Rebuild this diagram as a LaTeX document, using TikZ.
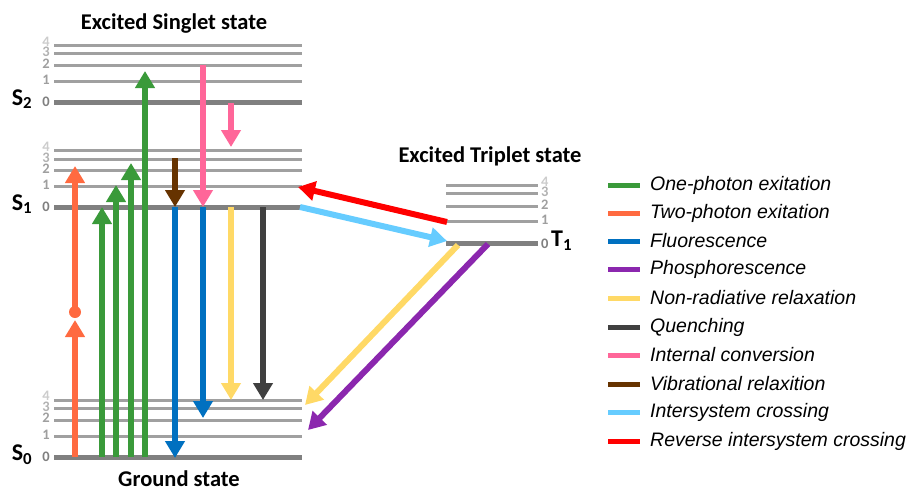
\documentclass[tikz,border=0pt]{standalone}
\usepackage{fontspec}
\setmainfont{Liberation Sans}
\newfontfamily\calfont{Carlito}
\usetikzlibrary{arrows.meta}
\definecolor{cgreen}{HTML}{3A9A3A}
\definecolor{corange}{HTML}{FF6A40}
\definecolor{cblue}{HTML}{0070C0}
\definecolor{cpurple}{HTML}{8B27AE}
\definecolor{cyellow}{HTML}{FFD966}
\definecolor{cdark}{HTML}{404040}
\definecolor{cpink}{HTML}{FF6699}
\definecolor{cbrown}{HTML}{663300}
\definecolor{clblue}{HTML}{66CCFF}
\definecolor{cred}{HTML}{FF0000}
\definecolor{lv}{HTML}{A0A0A0}
\definecolor{lvz}{HTML}{808080}
\begin{document}
\begin{tikzpicture}[x=1pt,y=-1pt,
  lvl/.style={draw=lv, line width=3pt},
  lvlz/.style={draw=lvz, line width=5pt},
  arr/.style={line width=6pt, -{Triangle[width=19pt,length=17pt]}},
  num/.style={font=\calfont\bfseries\fontsize{14.5}{14.5}\selectfont, inner sep=0pt},
  ttl/.style={font=\calfont\bfseries\fontsize{22.5}{22.5}\selectfont, inner sep=0pt},
  slab/.style={font=\calfont\bfseries\fontsize{24}{24}\selectfont, inner sep=0pt},
  leg/.style={line width=5pt},
  legt/.style={font=\itshape\fontsize{19.5}{19.5}\selectfont, anchor=west, inner sep=0pt}]
\useasboundingbox (0,0) rectangle (909,488);

% singlet and ground levels
\foreach \y/\ny/\n/\c in {45/42/4/gray!40,53/52/3/gray!60,65/64/2/gray!75,81/80/1/gray!75,
                      150/147/4/gray!40,159/158/3/gray!60,170/169/2/gray!75,186/185/1/gray!75,
                      400/396/4/gray!40,408/407/3/gray!60,420/418/2/gray!75,436/435/1/gray!75}{
  \draw[lvl] (54,\y) -- (302,\y);
  \node[num, text=\c, anchor=east] (n\y) at (50,\ny) {\n};
}
\foreach \y in {102,207,457}{
  \draw[lvlz] (54,\y) -- (302,\y);
  \node[num, text=lvz, anchor=east] (n\y) at (50,\y) {0};
}
% triplet levels
\foreach \y/\ny/\n/\c in {185/182/4/gray!40,193/192/3/gray!60,206/205/2/gray!75,221/220/1/gray!75}{
  \draw[lvl] (446,\y) -- (538,\y);
  \node[num, text=\c, anchor=west] (t\y) at (541,\ny) {\n};
}
\draw[lvlz] (446,243) -- (538,243);
\node[num, text=lvz, anchor=west] (t243) at (541,244) {0};

% titles and labels
\node[ttl] (tsing) at (174,24) {Excited Singlet state};
\node[ttl, anchor=base] (tground) at (179,486) {Ground state};
\node[ttl] (ttrip) at (490,156) {Excited Triplet state};
\node[slab] (s2) at (22,99) {S\textsubscript{2}};
\node[slab] (s1) at (22,204) {S\textsubscript{1}};
\node[slab] (s0) at (22,455) {S\textsubscript{0}};
\node[slab, anchor=west] (t1) at (551,241) {T\textsubscript{1}};

% coordinates
\coordinate (o0) at (75,457); \coordinate (o1) at (75,320);
\coordinate (oc) at (75,312); \coordinate (o2) at (75,166);
\coordinate (g1a) at (102,457); \coordinate (g1b) at (102,207);
\coordinate (g2a) at (116,457); \coordinate (g2b) at (116,185);
\coordinate (g3a) at (131,457); \coordinate (g3b) at (131,163);
\coordinate (g4a) at (145,457); \coordinate (g4b) at (145,71);
\coordinate (bra) at (175,158); \coordinate (brb) at (175,207);
\coordinate (f1a) at (175,207); \coordinate (f1b) at (175,458);
\coordinate (f2a) at (203,207); \coordinate (f2b) at (203,418);
\coordinate (p1a) at (203,65); \coordinate (p1b) at (203,207);
\coordinate (p2a) at (231,103); \coordinate (p2b) at (231,147);
\coordinate (ya) at (231,207); \coordinate (yb) at (231,400);
\coordinate (qa) at (263,207); \coordinate (qb) at (263,400);
\coordinate (ra) at (447,222); \coordinate (rb) at (298,187);
\coordinate (ia) at (300,207); \coordinate (ib) at (447,241);
\coordinate (yda) at (458,245); \coordinate (ydb) at (305,405);
\coordinate (pha) at (488,244); \coordinate (phb) at (308,430);

% arrows
\draw[arr, corange] (o0) -- (o1);
\fill[corange] (oc) circle (6pt);
\draw[arr, corange] (oc) -- (o2);
\draw[arr, cgreen] (g1a) -- (g1b);
\draw[arr, cgreen] (g2a) -- (g2b);
\draw[arr, cgreen] (g3a) -- (g3b);
\draw[arr, cgreen] (g4a) -- (g4b);
\draw[arr, cbrown] (bra) -- (brb);
\draw[arr, cblue] (f1a) -- (f1b);
\draw[arr, cblue] (f2a) -- (f2b);
\draw[arr, cpink] (p1a) -- (p1b);
\draw[arr, cpink] (p2a) -- (p2b);
\draw[arr, cyellow] (ya) -- (yb);
\draw[arr, cdark] (qa) -- (qb);
\draw[arr, cred] (ra) -- (rb);
\draw[arr, clblue] (ia) -- (ib);
\draw[arr, cyellow] (yda) -- (ydb);
\draw[arr, cpurple] (pha) -- (phb);

% legend
\foreach \y/\c/\t [count=\i] in {185/cgreen/One-photon exitation,
  213/corange/Two-photon exitation,
  241/cblue/Fluorescence,
  269/cpurple/Phosphorescence,
  298/cyellow/Non-radiative relaxation,
  327/cdark/Quenching,
  355/cpink/Internal conversion,
  384/cbrown/Vibrational relaxition,
  412/clblue/Intersystem crossing,
  441/cred/Reverse intersystem crossing}{
  \coordinate (la\i) at (608,\y);
  \coordinate (lb\i) at (640,\y);
  \draw[leg, \c] (la\i) -- (lb\i);
  \node[legt] (lt\i) at (650,\y) {\t};
}
\end{tikzpicture}
\end{document}
